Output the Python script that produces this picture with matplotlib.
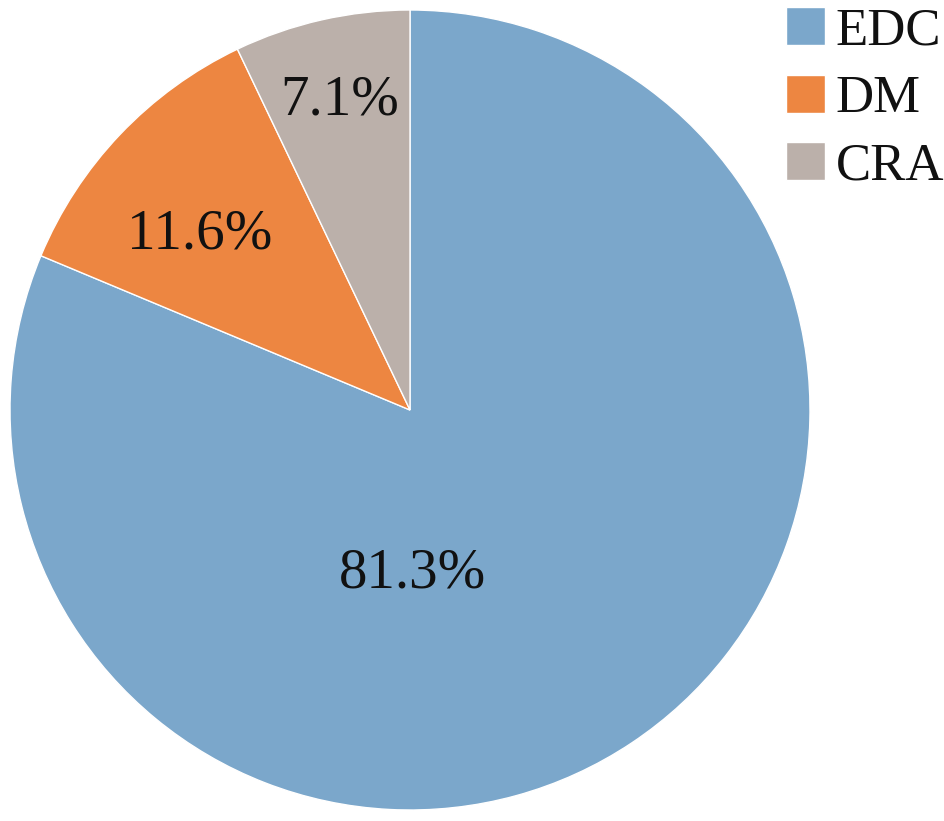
import matplotlib
matplotlib.use("Agg")
import matplotlib.pyplot as plt

categories = ["EDC", "DM", "CRA"]
values = [81.3, 11.6, 7.1]
colors = ["#7BA7CB", "#ED8641", "#BBB0AA"]

plt.rcParams['font.family'] = ['Liberation Serif', 'DejaVu Serif']

W, H = 944, 821
fig = plt.figure(figsize=(W / 100, H / 100), dpi=100)

cx, cy, r = 410, 410, 400
ax = fig.add_axes([(cx - r) / W, (H - cy - r) / H, 2 * r / W, 2 * r / H])
wedges, texts, autotexts = ax.pie(
    values, colors=colors, startangle=90, counterclock=False,
    autopct=lambda p: f"{p:.1f}%", pctdistance=0.5,
    wedgeprops=dict(edgecolor="white", linewidth=1.0),
    textprops=dict(fontsize=41, color="#111111"))
ax.set_aspect("equal")
ax.set_xlim(-1, 1)
ax.set_ylim(-1, 1)

# label placements (relative to radius), like Excel best-fit
label_pos = [(0.0075, -0.41), (-0.525, 0.44), (-0.175, 0.775)]
for t, (x, y) in zip(autotexts, label_pos):
    t.set_position((x, y))
    t.set_ha("center")
    t.set_va("center")

leg = fig.legend(wedges, categories, loc="upper left",
                 bbox_to_anchor=(786 / W, 1 - 7 / H), frameon=False,
                 fontsize=38, handlelength=0.74, handleheight=0.74,
                 handletextpad=0.2, labelspacing=0.36, borderpad=0,
                 borderaxespad=0)
for txt in leg.get_texts():
    txt.set_color("#111111")

fig.savefig("out.png", dpi=100)
